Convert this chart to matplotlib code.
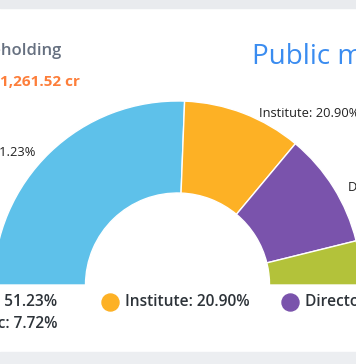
import numpy as np
import matplotlib.pyplot as plt
from matplotlib.patches import Rectangle

# shareholding pattern (half donut)
labels = ["Promoter", "Institute", "Director", "Public"]
shares = [51.23, 20.90, 20.15, 7.72]
colors = ["#5ec1ea", "#fdb125", "#7a53ac", "#b3c23a"]
heading = "Shareholding"
market_cap = "1,261.52 cr"
title = "Public market"

plt.rcParams['font.family'] = ['Open Sans', 'DejaVu Sans']

fig = plt.figure(figsize=(3.56, 3.64), dpi=100)
ax = fig.add_axes([0, 0, 1, 1])

# grey page bands around the white card
ax.add_patch(Rectangle((0, 0), 356, 8, color='#e9ebee', zorder=0))
ax.add_patch(Rectangle((0, 352), 356, 12, color='#eceef1', zorder=0))

cx, cy, R = 177.5, 285, 184
vals = shares + [sum(shares)]  # hidden lower half
wedges, _ = ax.pie(vals, colors=colors + ['none'], startangle=180, counterclock=True,
                   radius=R, center=(cx, cy),
                   wedgeprops=dict(width=R / 2, edgecolor='white', linewidth=1))
wedges[-1].set_edgecolor('none')

# labels outside the arc
start = 180.0
for lab, v in zip(labels, shares):
    mid = np.radians(start + v * 1.8 / 2)
    start += v * 1.8
    x = cx + R * np.cos(mid)
    y = cy + R * np.sin(mid)
    right = np.cos(mid) > 0
    ax.text(x + (15 if right else -15), y, f"{lab}: {v:.2f}%", fontsize=9.3,
            fontweight='medium', color='#222222',
            ha='left' if right else 'right', va='center')

ax.text(62, 51, heading, fontsize=12, fontweight='semibold', color='#667080',
        ha='right', va='center')
ax.text(80, 82, market_cap, fontsize=11, fontweight='bold', color='#fd7e3a',
        ha='right', va='center')
ax.text(252, 57, title, fontsize=20, fontweight='medium', color='#3a8cf0',
        ha='left', va='center')

# legend rows
legend_x = [(-60, 57), (110, 125), (290, 305), (-60, 57)]
legend_y = [302, 302, 302, 324]
for (dx, tx), ly, lab, v, c in zip(legend_x, legend_y, labels, shares, colors):
    ax.scatter([dx], [ly], s=150, color=c, zorder=5)
    ax.text(tx, ly, f"{lab}: {v:.2f}%", fontsize=11.2, fontweight='semibold',
            color='#2d3339', ha='right' if dx < 0 else 'left', va='center')

ax.set_xlim(0, 356)
ax.set_ylim(364, 0)
ax.set_aspect('auto')
ax.axis('off')
fig.savefig('out.png', dpi=100)
